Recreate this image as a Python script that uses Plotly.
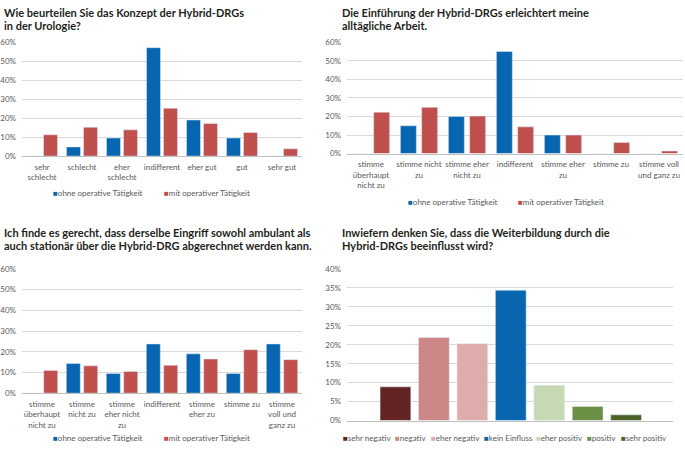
import plotly.graph_objects as go

W, H = 685, 449

# ---------------- data ----------------
series_names = ["ohne operative Tätigkeit", "mit operativer Tätigkeit"]

cats1 = ["sehr<br>schlecht", "schlecht", "eher<br>schlecht", "indifferent", "eher gut", "gut", "sehr gut"]
ohne1 = [0, 4.8, 9.5, 57.1, 19.0, 9.5, 0]
mit1 = [11.2, 15.2, 13.8, 25.2, 17.2, 12.4, 3.8]

cats2 = ["stimme<br>überhaupt<br>nicht zu", "stimme nicht<br>zu", "stimme eher<br>nicht zu", "indifferent",
         "stimme eher<br>zu", "stimme zu", "stimme voll<br>und ganz zu"]
ohne2 = [0, 15.0, 20.0, 55.0, 10.0, 0, 0]
mit2 = [22.3, 24.9, 20.2, 14.4, 10.0, 6.0, 1.4]

cats3 = ["stimme<br>überhaupt<br>nicht zu", "stimme<br>nicht zu", "stimme<br>eher nicht<br>zu", "indifferent",
         "stimme<br>eher zu", "stimme zu", "stimme<br>voll und<br>ganz zu"]
ohne3 = [0, 14.3, 9.5, 23.8, 19.0, 9.5, 23.8]
mit3 = [11.0, 13.2, 10.5, 13.5, 16.5, 21.0, 16.2]

cats4 = ["sehr negativ", "negativ", "eher negativ", "kein Einfluss", "eher positiv", "positiv", "sehr positiv"]
vals4 = [8.9, 21.9, 20.3, 34.4, 9.3, 3.7, 1.5]

titles = [
    ["Wie beurteilen Sie das Konzept der Hybrid-DRGs", "in der Urologie?"],
    ["Die Einführung der Hybrid-DRGs erleichtert meine", "alltägliche Arbeit."],
    ["Ich finde es gerecht, dass derselbe Eingriff sowohl ambulant als",
     "auch stationär über die Hybrid-DRG abgerechnet werden kann."],
    ["Inwiefern denken Sie, dass die Weiterbildung durch die", "Hybrid-DRGs beeinflusst wird?"],
]

# ---------------- style ----------------
BLUE = "#0866B0"
RED = "#C0504D"
COLS4 = ["#632523", "#CD8786", "#DDACAB", "#0866B0", "#C7D9B2", "#6A8F45", "#4A6228"]
GRID = "#D9D9D9"
FONT = "Lato"
TICKC = "#595959"
FS = 8

def px_x(p):
    return p / W

def px_y(p):
    return 1 - p / H

fig = go.Figure()

panels = [
    dict(cats=cats1, a=ohne1, b=mit1, w=0.35, gap=0.075, xa="x", ya="y"),
    dict(cats=cats2, a=ohne2, b=mit2, w=0.333, gap=0.11, xa="x2", ya="y2"),
    dict(cats=cats3, a=ohne3, b=mit3, w=0.35, gap=0.085, xa="x3", ya="y3"),
]

for p in panels:
    half = p["w"] + p["gap"] / 2
    fig.add_trace(go.Bar(x=p["cats"], y=p["a"], name=series_names[0], marker_color=BLUE,
                         width=p["w"], offset=-half, xaxis=p["xa"], yaxis=p["ya"], showlegend=False))
    fig.add_trace(go.Bar(x=p["cats"], y=p["b"], name=series_names[1], marker_color=RED,
                         width=p["w"], offset=p["gap"] / 2, xaxis=p["xa"], yaxis=p["ya"], showlegend=False))

fig.add_trace(go.Bar(x=cats4, y=vals4, marker_color=COLS4, width=0.8, xaxis="x4", yaxis="y4",
                     showlegend=False, name="Weiterbildung"))

layout = dict(
    width=W, height=H, margin=dict(l=0, r=0, t=0, b=0),
    paper_bgcolor="white", plot_bgcolor="white",
    font=dict(family=FONT, size=FS, color=TICKC),
    showlegend=False, barmode="group",
)

domains = [
    ((22, 302), (38, 154.5)),
    ((347, 683), (38, 152)),
    ((22, 302), (270, 397)),
    ((347, 673), (270, 425)),
]
for i, ((x0, x1), (y0, y1)) in enumerate(domains):
    k = "" if i == 0 else str(i + 1)
    anchor = "y" + k
    xanchor = "x" + k
    xaxis = dict(domain=[px_x(x0), px_x(x1)], anchor=anchor, type="category",
                 showgrid=False, showline=True, linecolor="#BFBFBF", linewidth=1,
                 ticks="", tickfont=dict(size=FS, color=TICKC, family=FONT), tickangle=0,
                 ticklabelstandoff=3, fixedrange=True)
    if i == 3:
        xaxis["range"] = [-1.26, 7.22]
        xaxis["showticklabels"] = False
    else:
        xaxis["range"] = [-0.5, 6.5]
    if i == 3:
        yaxis = dict(range=[0, 40], dtick=5)
    else:
        yaxis = dict(range=[0, 60], dtick=10)
    yaxis.update(domain=[px_y(y1), px_y(y0)], anchor=xanchor, showgrid=True, gridcolor=GRID,
                 gridwidth=1, zeroline=False, ticksuffix="%", ticks="", showline=False,
                 tickfont=dict(size=FS, color=TICKC, family=FONT), ticklabelstandoff=5,
                 fixedrange=True)
    layout["xaxis" + k] = xaxis
    layout["yaxis" + k] = yaxis

annotations = []
title_pos = [(2, 8), (340, 8), (2, 233), (340, 233)]
for lines, (tx, ty) in zip(titles, title_pos):
    for j, line in enumerate(lines):
        annotations.append(dict(text="<b>" + line + "</b>", xref="paper", yref="paper",
                                x=px_x(tx), y=px_y(ty + j * 12.5), xanchor="left", yanchor="middle",
                                showarrow=False, align="left",
                                font=dict(family=FONT, size=11, color="#231F20")))

def legend_item(text, color, x, y):
    annotations.append(dict(text='<span style="color:%s">■</span>%s' % (color, text),
                            xref="paper", yref="paper", x=px_x(x), y=px_y(y),
                            xanchor="left", yanchor="middle", showarrow=False,
                            font=dict(family=FONT, size=FS, color=TICKC)))

legend_item(series_names[0], BLUE, 51, 192)
legend_item(series_names[1], RED, 162, 192)
legend_item(series_names[0], BLUE, 406, 201)
legend_item(series_names[1], RED, 516, 201)
legend_item(series_names[0], BLUE, 51, 443)
legend_item(series_names[1], RED, 162, 443)
leg4_x = [341, 393, 429, 482, 534, 585, 619]
for name, col, lx in zip(cats4, COLS4, leg4_x):
    legend_item(name, col, lx, 443)

layout["annotations"] = annotations
fig.update_layout(**layout)
fig.write_html("out.html")
